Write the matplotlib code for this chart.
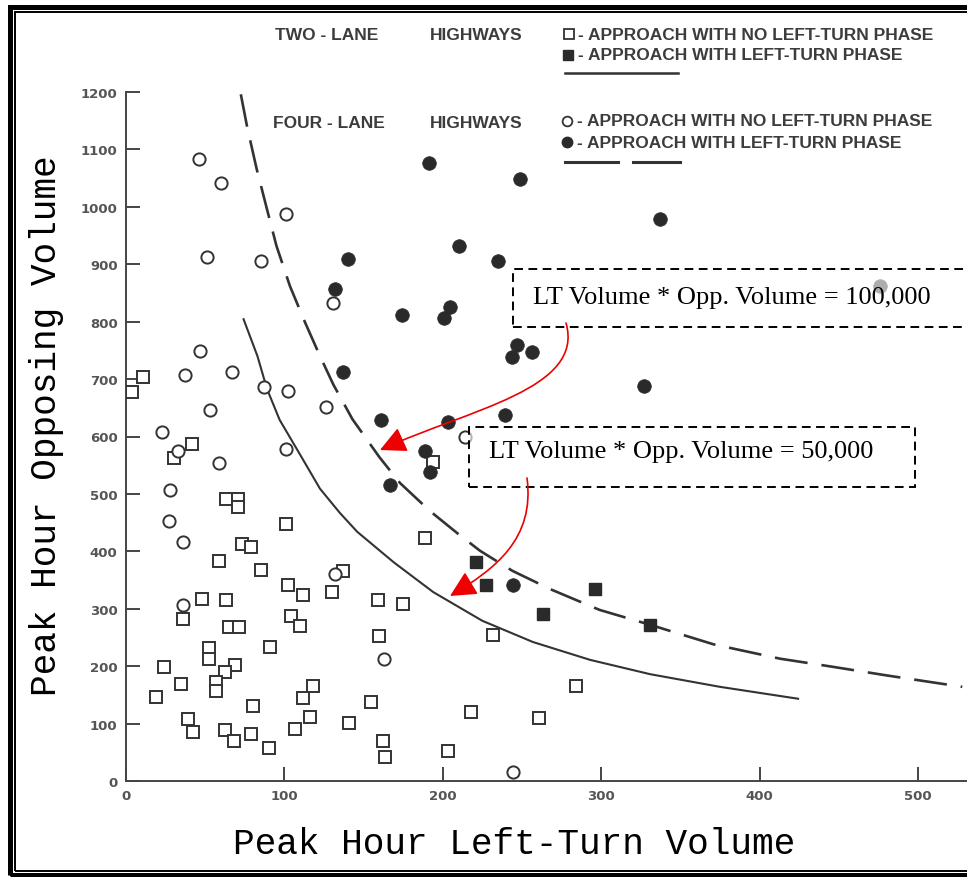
import matplotlib
matplotlib.use("Agg")
import matplotlib.pyplot as plt
from matplotlib.lines import Line2D
from matplotlib.patches import Rectangle, FancyArrowPatch
from matplotlib.path import Path

# ---------------- data ----------------
# Two-lane highways, approach with no left-turn phase (open squares)
sq_open_x = [10.5, 4, 30, 41.5, 63, 71, 71, 101, 73, 79, 59, 85, 102, 112, 130, 36, 48, 63,
             65, 71.5, 52.6, 52.6, 91, 104, 110, 24, 69, 62.5, 34.5, 57, 57, 19, 80, 39, 42,
             62.5, 68, 79, 90, 118, 112, 116, 107, 194, 189, 137, 159, 175, 160, 232, 284,
             155, 141, 217.6, 261, 162, 163.5, 203.5]
sq_open_y = [704, 677, 562, 587, 492, 491, 478, 448, 413, 407, 384, 367, 342, 324, 330, 282, 317, 316,
             268, 268, 231, 212, 233, 287, 270, 198, 202, 190, 169, 172, 156, 147, 131, 108, 86,
             88, 70, 82, 57, 165, 144, 112, 90, 555, 423, 366, 315, 308, 253, 254, 166,
             137, 101, 121, 109, 70, 41, 52]
# Two-lane highways, approach with left-turn phase (filled squares)
sq_fill_x = [221, 227, 296, 263, 331]
sq_fill_y = [381, 342, 335, 291, 272]
# Four-lane highways, approach with no left-turn phase (open circles)
ci_open_x = [46, 60, 101, 51, 85, 47, 37, 67, 87, 102, 53, 126, 22.5, 33, 59, 101, 28, 27, 36, 36,
             131, 214, 132, 163, 244.5]
ci_open_y = [1083, 1041, 987, 912, 905, 749, 707, 712, 686, 680, 646, 651, 608, 575, 553, 579, 506,
             453, 417, 306, 832, 599, 360, 212, 15]
# Four-lane highways, approach with left-turn phase (filled circles)
ci_fill_x = [191, 249, 337, 210, 235, 140, 132, 174, 204.5, 201, 247, 244, 256.5, 327, 137, 161,
             203, 239, 189, 192, 167, 244.5, 476]
ci_fill_y = [1077, 1048, 979, 932, 905, 909, 857, 812, 826, 806, 759, 738, 747, 688, 713, 629,
             625, 637, 575, 538, 516, 342, 862]

# Curves (LT volume * opposing volume = constant)
solid_x = [74, 83, 89, 97, 110, 122.5, 135, 146, 169, 194, 225, 257, 293, 331, 375, 425]
solid_y = [806, 740, 683, 629, 568, 509, 467, 434, 381, 329, 279, 242, 211, 186, 164, 143]
dash_x = [72.5, 76.5, 82.5, 89, 95, 103.5, 113, 122.5, 131, 143, 160, 173, 192, 209, 223.5,
          244, 268, 299, 331, 371, 413, 446, 480, 528]
dash_y = [1196, 1139, 1066, 996, 932, 862, 799, 740, 690, 630, 564, 519, 470, 432, 401,
          366, 334, 298, 272, 238, 213, 199, 184, 164]

x_ticks = [0, 100, 200, 300, 400, 500]
y_ticks = [0, 100, 200, 300, 400, 500, 600, 700, 800, 900, 1000, 1100, 1200]

label_100k = "LT Volume * Opp. Volume = 100,000"
label_50k = "LT Volume * Opp. Volume = 50,000"

# ---------------- figure ----------------
W, H = 967, 878
fig = plt.figure(figsize=(W / 100, H / 100), dpi=100)
fig.patch.set_facecolor("white")


def fx(px):
    return px / W


def fy(py):
    return 1 - py / H


INK = "#333333"
ax = fig.add_axes([fx(126), fy(782), fx(967) - fx(126), fy(93) - fy(782)])
ax.set_xlim(0, 531)
ax.set_ylim(0, 1200)
ax.set_facecolor("none")
for s in ("top", "right"):
    ax.spines[s].set_visible(False)
for s in ("left", "bottom"):
    ax.spines[s].set_color("#444444")
    ax.spines[s].set_linewidth(1.4)
ax.set_xticks(x_ticks)
ax.set_yticks(y_ticks)
ax.tick_params(direction="in", length=10, width=1.4, color="#444444",
               labelsize=9.5, labelcolor="#555555", pad=6)
for lab in ax.get_xticklabels() + ax.get_yticklabels():
    lab.set_fontweight("bold")

# curves
ax.plot(solid_x, solid_y, color=INK, lw=1.5, solid_capstyle="butt", solid_joinstyle="round", zorder=2)
ax.plot(dash_x, dash_y, color=INK, lw=1.9, dashes=(12.5, 5.3), dash_joinstyle="round", zorder=2)

# points
ms = 8.8
ax.plot(sq_open_x, sq_open_y, ls="none", marker="s", ms=ms, mfc="white", mec=INK, mew=1.4, zorder=3)
ax.plot(sq_fill_x, sq_fill_y, ls="none", marker="s", ms=ms, mfc="#2a2a2a", mec="#2a2a2a", mew=1.0, zorder=3)
ax.plot(ci_open_x, ci_open_y, ls="none", marker="o", ms=ms, mfc="white", mec=INK, mew=1.4, zorder=3)
ax.plot(ci_fill_x, ci_fill_y, ls="none", marker="o", ms=9.8, mfc="#2a2a2a", mec="#2a2a2a", mew=0.5, zorder=3)

# ---------------- legend (scanned header) ----------------
leg_font = dict(family=["Liberation Sans"], fontsize=12.5,
                fontweight="bold", color="#3c3c3c", va="center", ha="left")
fig.text(fx(275), fy(36), "TWO - LANE", **leg_font)
fig.text(fx(430), fy(36), "HIGHWAYS", **leg_font)
fig.text(fx(578), fy(35), "- APPROACH WITH NO LEFT-TURN PHASE", **leg_font)
fig.text(fx(578), fy(56), "- APPROACH WITH LEFT-TURN PHASE", **leg_font)
fig.text(fx(273), fy(124), "FOUR - LANE", **leg_font)
fig.text(fx(430), fy(124), "HIGHWAYS", **leg_font)
fig.text(fx(577), fy(122), "- APPROACH WITH NO LEFT-TURN PHASE", **leg_font)
fig.text(fx(577), fy(144), "- APPROACH WITH LEFT-TURN PHASE", **leg_font)

fig.add_artist(Line2D([fx(569)], [fy(35)], marker="s", ms=7, mfc="white", mec=INK, mew=1.3))
fig.add_artist(Line2D([fx(568)], [fy(56)], marker="s", ms=7, mfc="#2a2a2a", mec="#2a2a2a"))
fig.add_artist(Line2D([fx(567)], [fy(122)], marker="o", ms=7, mfc="white", mec=INK, mew=1.3))
fig.add_artist(Line2D([fx(567)], [fy(143)], marker="o", ms=7.5, mfc="#2a2a2a", mec="#2a2a2a"))
fig.add_artist(Line2D([fx(565), fx(678)], [fy(74), fy(74)], color=INK, lw=1.8))
fig.add_artist(Line2D([fx(565), fx(618)], [fy(163), fy(163)], color=INK, lw=2.2))
fig.add_artist(Line2D([fx(633), fx(680)], [fy(163), fy(163)], color=INK, lw=2.2))

# ---------------- axis titles ----------------
title_font = dict(family=["Liberation Mono", "DejaVu Sans Mono"], fontsize=26, color="black")
fig.text(fx(514), fy(845), "Peak Hour Left-Turn Volume", ha="center", va="center", **title_font)
fig.text(fx(47), fy(426), "Peak Hour Opposing Volume", ha="center", va="center",
         rotation=90, **title_font)

# ---------------- annotation boxes ----------------
def box(x0, y0, x1, y1):
    r = Rectangle((fx(x0), fy(y1)), fx(x1) - fx(x0), fy(y0) - fy(y1), transform=fig.transFigure,
                  facecolor=(1, 1, 1, 0.62), edgecolor="black", lw=1.4, ls=(0, (4.5, 2.8)), zorder=5)
    fig.add_artist(r)


box(513, 270, 1000, 328)
box(469, 428, 915, 488)
ann_font = dict(family=["Liberation Serif", "DejaVu Serif"], fontsize=19, color="black",
                va="center", ha="left", zorder=6)
fig.text(fx(533), fy(298), label_100k, **ann_font)
fig.text(fx(489), fy(452), label_50k, **ann_font)


def red_arrow(pts):
    verts = [(fx(x), fy(y)) for x, y in pts]
    p = Path(verts, [Path.MOVETO, Path.CURVE4, Path.CURVE4, Path.CURVE4])
    a = FancyArrowPatch(path=p, arrowstyle="-|>,head_length=0.8,head_width=0.4",
                        mutation_scale=20, color="#ee0000", lw=1.2, transform=fig.transFigure,
                        zorder=7)
    fig.add_artist(a)


red_arrow([(566, 324), (585, 390), (470, 410), (380, 451)])
red_arrow([(527, 479), (535, 540), (495, 570), (450, 597)])

# ---------------- double frame ----------------
fig.add_artist(Rectangle((fx(9.5), fy(875.5)), fx(1000) - fx(9.5), fy(7.5) - fy(875.5),
                         transform=fig.transFigure, fill=False, edgecolor="black", lw=3.6, zorder=10))
fig.add_artist(Rectangle((fx(14.5), fy(872)), fx(1000) - fx(14.5), fy(12.5) - fy(872),
                         transform=fig.transFigure, fill=False, edgecolor="black", lw=1.4, zorder=10))

fig.savefig("out.png", dpi=100, facecolor="white")
